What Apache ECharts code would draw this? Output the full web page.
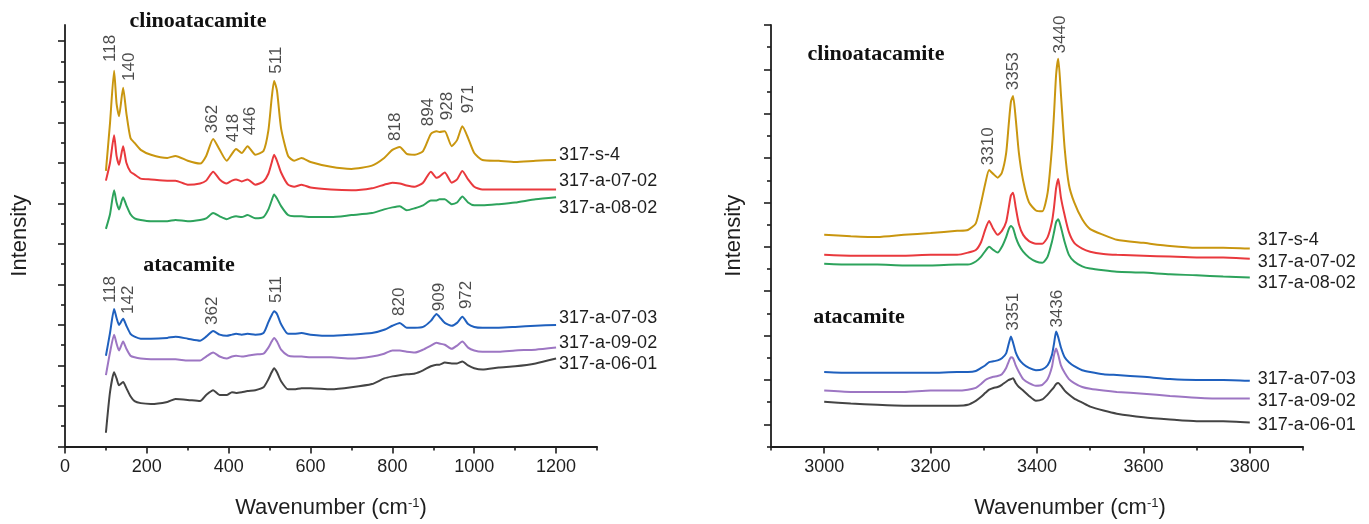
<!DOCTYPE html>
<html>
<head>
<meta charset="utf-8">
<style>
  html, body { margin: 0; padding: 0; background: #fff; }
  #chart { width: 1369px; height: 524px; }
</style>
<script src="https://cdn.jsdelivr.net/npm/echarts@6/dist/echarts.min.js"></script>
</head>
<body>
<div id="chart"></div>
<script>
// ---- low wavenumber panel (100-1200 cm-1) ----
const lowX = [100, 110, 120, 126, 132, 142, 150, 160, 170, 185, 210, 250, 270, 300, 330, 345, 362, 378, 395, 408,
  418, 432, 446, 465, 485, 497, 505, 511, 518, 528, 545, 560, 578, 600, 650, 700, 750, 780, 800, 818,
  835, 855, 875, 894, 908, 915, 928, 945, 958, 971, 985, 1000, 1020, 1060, 1100, 1150, 1200];

const lowS4 = [6.80, 7.98, 9.27, 8.46, 8.15, 8.85, 8.22, 7.61, 7.49, 7.32, 7.20, 7.12, 7.17, 7.05, 6.98, 7.17, 7.59, 7.32, 7.05, 7.22,
  7.34, 7.24, 7.41, 7.20, 7.29, 7.80, 8.59, 9.02, 8.78, 7.85, 7.17, 7.05, 7.12, 7.02, 6.90, 6.85, 6.93, 7.12, 7.32, 7.39,
  7.22, 7.20, 7.29, 7.71, 7.78, 7.76, 7.78, 7.41, 7.56, 7.90, 7.61, 7.24, 7.07, 7.05, 7.02, 7.05, 7.07];
const lowA0702 = [6.56, 7.00, 7.68, 7.17, 6.95, 7.41, 7.00, 6.78, 6.71, 6.61, 6.59, 6.56, 6.56, 6.46, 6.49, 6.56, 6.78, 6.59, 6.49, 6.56,
  6.59, 6.54, 6.59, 6.46, 6.54, 6.73, 7.00, 7.20, 7.05, 6.76, 6.46, 6.41, 6.46, 6.39, 6.34, 6.32, 6.37, 6.46, 6.51, 6.49,
  6.44, 6.41, 6.51, 6.78, 6.63, 6.66, 6.76, 6.51, 6.59, 6.80, 6.59, 6.41, 6.34, 6.34, 6.34, 6.34, 6.34];
const lowA0802 = [5.37, 5.73, 6.32, 6.02, 5.85, 6.15, 5.95, 5.73, 5.63, 5.59, 5.56, 5.56, 5.59, 5.56, 5.59, 5.63, 5.76, 5.68, 5.61, 5.66,
  5.68, 5.66, 5.71, 5.63, 5.66, 5.85, 6.07, 6.22, 6.12, 5.93, 5.71, 5.68, 5.68, 5.66, 5.66, 5.71, 5.76, 5.85, 5.90, 5.93,
  5.83, 5.88, 5.95, 6.07, 6.07, 6.10, 6.10, 5.98, 6.02, 6.17, 6.02, 5.95, 5.95, 5.98, 6.02, 6.10, 6.15];
const lowA0703 = [2.24, 2.80, 3.39, 3.17, 3.00, 3.15, 2.98, 2.78, 2.71, 2.66, 2.66, 2.68, 2.71, 2.66, 2.61, 2.71, 2.85, 2.76, 2.73, 2.76,
  2.78, 2.76, 2.78, 2.76, 2.80, 3.07, 3.24, 3.34, 3.27, 3.02, 2.78, 2.78, 2.80, 2.76, 2.73, 2.76, 2.80, 2.88, 2.98, 3.05,
  2.93, 2.93, 2.95, 3.10, 3.27, 3.20, 3.05, 2.98, 3.05, 3.20, 3.02, 2.95, 2.93, 2.93, 2.95, 2.98, 3.00];
const lowA0902 = [1.76, 2.32, 2.76, 2.54, 2.37, 2.59, 2.41, 2.24, 2.20, 2.17, 2.15, 2.15, 2.15, 2.12, 2.12, 2.22, 2.32, 2.22, 2.17, 2.22,
  2.24, 2.22, 2.24, 2.27, 2.29, 2.44, 2.59, 2.68, 2.59, 2.39, 2.24, 2.22, 2.22, 2.20, 2.20, 2.17, 2.22, 2.29, 2.37, 2.37,
  2.34, 2.32, 2.39, 2.49, 2.56, 2.54, 2.51, 2.41, 2.49, 2.59, 2.44, 2.37, 2.34, 2.34, 2.37, 2.39, 2.44];
const lowA0601 = [0.34, 1.34, 1.83, 1.68, 1.51, 1.59, 1.44, 1.24, 1.12, 1.07, 1.05, 1.10, 1.17, 1.15, 1.12, 1.27, 1.39, 1.27, 1.27, 1.34,
  1.32, 1.34, 1.37, 1.39, 1.46, 1.66, 1.83, 1.93, 1.83, 1.61, 1.41, 1.41, 1.44, 1.44, 1.41, 1.46, 1.54, 1.68, 1.73, 1.76,
  1.78, 1.80, 1.88, 1.98, 2.02, 2.02, 2.07, 2.05, 2.05, 2.10, 2.00, 1.93, 1.90, 1.95, 1.98, 2.05, 2.17];

// peak annotations (text, x, y of label foot)
const lowPeakText = ["118", "140", "362", "418", "446", "511", "818", "894", "928", "971",
  "118", "142", "362", "511", "820", "909", "972"];
const lowPeakX = [111, 156, 359, 411, 452, 516, 806, 887, 934, 985,
  111, 154, 359, 516, 816, 914, 980];
const lowPeakY = [9.49, 9.02, 7.73, 7.51, 7.68, 9.20, 7.54, 7.90, 8.05, 8.22,
  3.54, 3.27, 3.00, 3.54, 3.22, 3.34, 3.39];

// ---- OH stretching panel (3000-3800 cm-1) ----
const highX = [3000, 3050, 3100, 3150, 3200, 3250, 3270, 3285, 3295, 3303, 3310, 3318, 3326, 3334, 3342, 3347, 3351, 3355, 3360, 3366,
  3374, 3385, 3398, 3410, 3420, 3428, 3432, 3436, 3440, 3445, 3452, 3460, 3470, 3485, 3500, 3525, 3550, 3600, 3650, 3700,
  3750, 3800];

const highS4 = [4.27, 4.24, 4.22, 4.27, 4.31, 4.36, 4.38, 4.53, 5.00, 5.44, 5.73, 5.64, 5.56, 5.67, 6.11, 6.78, 7.27, 7.40, 6.89, 6.11,
  5.49, 5.00, 4.82, 4.80, 5.22, 6.22, 7.00, 7.89, 8.24, 7.44, 6.22, 5.40, 5.00, 4.62, 4.40, 4.27, 4.16, 4.09, 4.02, 3.98,
  3.98, 3.96];
const highA0702 = [3.82, 3.80, 3.80, 3.80, 3.82, 3.82, 3.87, 3.93, 4.11, 4.40, 4.58, 4.40, 4.27, 4.36, 4.56, 4.89, 5.16, 5.22, 4.89, 4.51,
  4.27, 4.13, 4.07, 4.07, 4.22, 4.56, 4.89, 5.33, 5.53, 5.11, 4.71, 4.33, 4.09, 3.96, 3.89, 3.84, 3.82, 3.80, 3.78, 3.76,
  3.76, 3.73];
const highA0802 = [3.62, 3.60, 3.60, 3.58, 3.58, 3.60, 3.60, 3.67, 3.78, 3.91, 4.00, 3.93, 3.87, 4.00, 4.22, 4.40, 4.47, 4.42, 4.22, 4.04,
  3.89, 3.76, 3.67, 3.64, 3.78, 4.11, 4.33, 4.56, 4.62, 4.44, 4.11, 3.82, 3.67, 3.56, 3.51, 3.47, 3.44, 3.42, 3.38, 3.36,
  3.33, 3.31];
const highA0703 = [1.18, 1.16, 1.16, 1.16, 1.16, 1.18, 1.18, 1.20, 1.27, 1.33, 1.40, 1.42, 1.44, 1.49, 1.60, 1.82, 1.98, 1.84, 1.62, 1.47,
  1.36, 1.27, 1.22, 1.24, 1.33, 1.56, 1.82, 2.09, 1.96, 1.73, 1.51, 1.40, 1.31, 1.22, 1.18, 1.13, 1.11, 1.07, 1.02, 1.00,
  1.00, 0.98];
const highA0902 = [0.76, 0.73, 0.73, 0.73, 0.76, 0.76, 0.78, 0.82, 0.91, 1.00, 1.04, 1.07, 1.09, 1.13, 1.27, 1.42, 1.51, 1.49, 1.33, 1.18,
  1.02, 0.93, 0.87, 0.89, 1.02, 1.29, 1.56, 1.71, 1.56, 1.33, 1.16, 1.02, 0.93, 0.84, 0.80, 0.76, 0.73, 0.69, 0.64, 0.60,
  0.58, 0.58];
const highA0601 = [0.51, 0.47, 0.44, 0.42, 0.42, 0.42, 0.44, 0.53, 0.62, 0.71, 0.78, 0.82, 0.84, 0.89, 0.96, 1.00, 1.02, 1.04, 0.93, 0.84,
  0.76, 0.64, 0.53, 0.56, 0.67, 0.78, 0.84, 0.91, 0.93, 0.87, 0.76, 0.67, 0.58, 0.49, 0.40, 0.31, 0.24, 0.16, 0.11, 0.07,
  0.07, 0.04];

const highPeakText = ["3310", "3353", "3440", "3351", "3436"];
const highPeakX = [3309, 3355, 3443, 3355, 3438];
const highPeakY = [5.84, 7.53, 8.36, 2.11, 2.18];

const sampleNames = ["317-s-4", "317-a-07-02", "317-a-08-02", "317-a-07-03", "317-a-09-02", "317-a-06-01"];
const lowSeries = [lowS4, lowA0702, lowA0802, lowA0703, lowA0902, lowA0601];
const highSeries = [highS4, highA0702, highA0802, highA0703, highA0902, highA0601];

// axis ticks
const lowXMajor = [0, 200, 400, 600, 800, 1000, 1200];
const lowXMinor = [100, 300, 500, 700, 900, 1100, 1300];
const highXMajor = [3000, 3200, 3400, 3600, 3800];
const highXMinor = [2900, 3100, 3300, 3500, 3700, 3900];
const lowYMajor = [0, 1, 2, 3, 4, 5, 6, 7, 8, 9, 10];
const lowYMinor = [0.5, 1.5, 2.5, 3.5, 4.5, 5.5, 6.5, 7.5, 8.5, 9.5];
const highYMajor = [0, 1, 2, 3, 4, 5, 6, 7, 8, 9];
const highYMinor = [-0.5, 0.5, 1.5, 2.5, 3.5, 4.5, 5.5, 6.5, 7.5, 8.5];

const COLORS = ["#C9960F", "#E9393D", "#2DA35C", "#1F60BE", "#9D76C3", "#444444"];
// end-label vertical nudges (px) so names sit like the original
const lowNameDy = [-5, -9, 11, -7, -5, 5];
const highNameDy = [-9, 3, 6, -2, 2, 2];

const SANS = '"Liberation Sans", Arial, sans-serif';
const SERIF = '"Liberation Serif", "Times New Roman", serif';
const INK = "#1e1e1e";

const pair = (xs, ys) => xs.map((x, i) => [x, ys[i]]);

function mainX(grid, min, max, ticks, nameShift) {
  return {
    gridIndex: grid, type: "value", position: "bottom", min, max,
    axisLine: { onZero: false, lineStyle: { color: INK, width: 1.8 } },
    axisTick: { customValues: ticks, length: 7, lineStyle: { color: INK, width: 1.6 } },
    axisLabel: { customValues: ticks, fontSize: 18, color: INK, fontFamily: SANS, margin: 12, formatter: (v) => String(v) },
    splitLine: { show: false },
    name: "Wavenumber (cm{sup|-1})",
    nameLocation: "middle",
    nameGap: 50,
    nameTextStyle: {
      fontSize: 22, color: INK, fontFamily: SANS,
      padding: [0, 0, 0, nameShift],
      rich: { sup: { fontSize: 13, fontFamily: SANS, color: INK, verticalAlign: "top", padding: [0, 0, 10, 0] } },
    },
  };
}
function minorX(grid, min, max, ticks) {
  return {
    gridIndex: grid, type: "value", position: "bottom", min, max,
    axisLine: { show: false, onZero: false },
    axisTick: { customValues: ticks, length: 4, lineStyle: { color: INK, width: 1.6 } },
    axisLabel: { show: false },
    splitLine: { show: false },
  };
}
function mainY(grid, min, max, ticks, gap) {
  return {
    gridIndex: grid, type: "value", position: "left", min, max,
    axisLine: { show: true, onZero: false, lineStyle: { color: INK, width: 1.8 } },
    axisTick: { show: true, customValues: ticks, length: 7, lineStyle: { color: INK, width: 1.6 } },
    axisLabel: { show: false },
    splitLine: { show: false },
    name: "Intensity",
    nameLocation: "middle",
    nameGap: gap,
    nameTextStyle: { fontSize: 22, color: INK, fontFamily: SANS },
  };
}
function minorY(grid, min, max, ticks) {
  return {
    gridIndex: grid, type: "value", position: "left", min, max,
    axisLine: { show: false, onZero: false },
    axisTick: { show: true, customValues: ticks, length: 4, lineStyle: { color: INK, width: 1.6 } },
    axisLabel: { show: false },
    splitLine: { show: false },
  };
}

function lines(xs, seriesList, axisIdx, dys, dist) {
  return seriesList.map((ys, i) => ({
    name: sampleNames[i],
    type: "line",
    xAxisIndex: axisIdx, yAxisIndex: axisIdx,
    data: pair(xs, ys),
    showSymbol: false, symbol: "none",
    smooth: 0.2,
    lineStyle: { color: COLORS[i], width: 2 },
    endLabel: {
      show: true, formatter: sampleNames[i], color: INK,
      fontSize: 18, fontFamily: SANS, distance: dist, offset: [0, dys[i]],
    },
    silent: true, z: 3,
  }));
}
function peaks(xs, ys, texts, axisIdx) {
  return {
    type: "scatter",
    xAxisIndex: axisIdx, yAxisIndex: axisIdx,
    symbolSize: 0,
    silent: true,
    data: xs.map((x, i) => ({ value: [x, ys[i]], name: texts[i] })),
    label: {
      show: true, formatter: "{b}", position: "inside", rotate: 90,
      align: "left", verticalAlign: "middle",
      fontSize: 17, color: INK, fontFamily: SANS,
    },
    z: 4,
  };
}

function title(text, x, y) {
  return {
    type: "text", x, y, silent: true,
    style: { text, font: "bold 22px " + SERIF, fill: "#111", align: "center", verticalAlign: "middle",
      textAlign: "center", textVerticalAlign: "middle" },
  };
}

const chart = echarts.init(document.getElementById("chart"), null, { renderer: "canvas" });
chart.setOption({
  animation: false,
  backgroundColor: "#fff",
  grid: [
    { left: 65, top: 25, width: 532, height: 427 },
    { left: 771, top: 25, width: 532, height: 428 },
  ],
  // axis order: 0 = left main, 1 = right main, 2/3 = minor ticks
  xAxis: [
    mainX(0, 0, 1300, lowXMajor, 0),
    mainX(1, 2900, 3900, highXMajor, 66),
    minorX(0, 0, 1300, lowXMinor),
    minorX(1, 2900, 3900, highXMinor),
  ],
  yAxis: [
    mainY(0, 0, 10.4, lowYMajor, 34),
    mainY(1, -0.5, 9, highYMajor, 26),
    minorY(0, 0, 10.4, lowYMinor),
    minorY(1, -0.5, 9, highYMinor),
  ],
  graphic: [
    title("clinoatacamite", 198, 21),
    title("atacamite", 189, 265),
    title("clinoatacamite", 876, 54),
    title("atacamite", 859, 317),
  ],
  series: [
    ...lines(lowX, lowSeries, 0, lowNameDy, 3),
    ...lines(highX, highSeries, 1, highNameDy, 8),
    peaks(lowPeakX, lowPeakY, lowPeakText, 0),
    peaks(highPeakX, highPeakY, highPeakText, 1),
  ],
});
</script>
</body>
</html>
